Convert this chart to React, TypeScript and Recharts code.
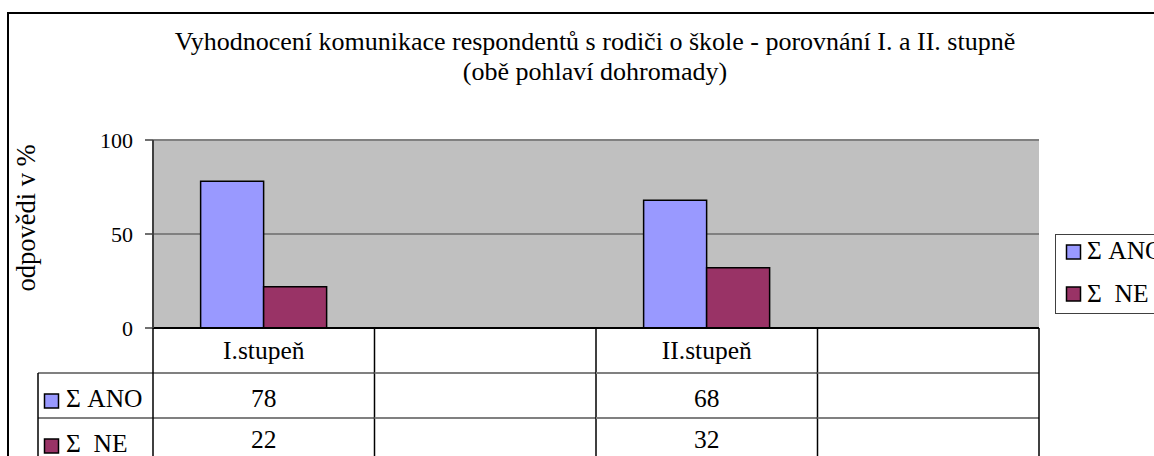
import React from 'react';
import { BarChart, Bar, XAxis, YAxis, CartesianGrid, Legend, ReferenceLine, Label } from 'recharts';

// ---- data ----
const categories = ['I.stupeň', '', 'II.stupeň', ''];
const anoValues: (number | null)[] = [78, null, 68, null];
const neValues: (number | null)[] = [22, null, 32, null];
const seriesNames = ['Σ ANO', 'Σ  NE'];
const seriesColors = ['#9999FF', '#993366'];
const yTicks = [0, 50, 100];
const titleLines = [
  'Vyhodnocení komunikace respondentů s rodiči o škole - porovnání I. a II. stupně',
  '(obě pohlaví dohromady)',
];
const yAxisTitle = 'odpovědi v %';

const data = categories.map((c, i) => ({ id: i, cat: c, ano: anoValues[i], ne: neValues[i] }));
const seriesValues = [anoValues, neValues];

// ---- layout ----
const FONT = "'Liberation Serif', 'Times New Roman', 'DejaVu Serif', serif";
const W = 1154;
const H = 470;
const TOP = 140;
const RIGHT = 115;
const YAXIS_W = 153;
const XAXIS_H = 142;
const PLOT_LEFT = YAXIS_W;
const PLOT_RIGHT = W - RIGHT;
const PLOT_BOTTOM = H - XAXIS_H;
const BAND = (PLOT_RIGHT - PLOT_LEFT) / categories.length;
const ROW_H = 45;
const TABLE_LEFT = 38;
const TABLE_FS = 25.5;

const TableTick = (props: any) => {
  const { x, payload } = props;
  const i: number = payload?.index ?? props.index ?? 0;
  const left = x - BAND / 2;
  const right = x + BAND / 2;
  const r1 = PLOT_BOTTOM;
  const r2 = r1 + ROW_H;
  const r3 = r2 + ROW_H;
  const textStyle = { fontFamily: FONT, fontSize: TABLE_FS, fill: '#000' } as const;
  return (
    <g>
      <line x1={left} x2={right} y1={r2} y2={r2} stroke="#808080" strokeWidth={2} />
      <line x1={left} x2={right} y1={r3} y2={r3} stroke="#808080" strokeWidth={2} />
      {i === 0 && (
        <g>
          <line x1={TABLE_LEFT} x2={left} y1={r2} y2={r2} stroke="#808080" strokeWidth={2} />
          <line x1={TABLE_LEFT} x2={left} y1={r3} y2={r3} stroke="#808080" strokeWidth={2} />
          <line x1={TABLE_LEFT} x2={TABLE_LEFT} y1={r2} y2={H} stroke="#000" strokeWidth={1.5} />
          <line x1={left} x2={left} y1={r1} y2={H} stroke="#000" strokeWidth={1.5} />
          {seriesNames.map((n, k) => (
            <g key={n}>
              <rect
                x={TABLE_LEFT + 6.5}
                y={(k === 0 ? r2 : r3) + 21}
                width={14}
                height={14}
                fill={seriesColors[k]}
                stroke="#000"
                strokeWidth={1.5}
              />
              <text x={TABLE_LEFT + 28} y={(k === 0 ? r2 : r3) + 34} style={{ ...textStyle, whiteSpace: 'pre' }}>
                {n}
              </text>
            </g>
          ))}
        </g>
      )}
      <line x1={right} x2={right} y1={r1} y2={H} stroke="#000" strokeWidth={1.5} />
      <text x={x} y={r1 + 31} textAnchor="middle" style={textStyle}>
        {categories[i]}
      </text>
      {seriesValues.map((vals, k) =>
        vals[i] != null ? (
          <text key={k} x={x} y={(k === 0 ? r2 : r3) + (k === 0 ? 34 : 30)} textAnchor="middle" style={textStyle}>
            {String(vals[i])}
          </text>
        ) : null
      )}
    </g>
  );
};

const YTitle = (props: any) => {
  const vb = props.viewBox || { x: 0, y: TOP, width: YAXIS_W, height: PLOT_BOTTOM - TOP };
  const cx = vb.x + 35;
  const cy = vb.y + vb.height / 2 - 16;
  return (
    <text
      x={cx}
      y={cy}
      transform={`rotate(-90 ${cx} ${cy})`}
      textAnchor="middle"
      style={{ fontFamily: FONT, fontSize: 26.5, fill: '#000' }}
    >
      {yAxisTitle}
    </text>
  );
};

const LegendBox = () => (
  <svg width={110} height={82} style={{ display: 'block', overflow: 'visible' }}>
    <rect x={0.5} y={0.5} width={140} height={79} fill="#fff" stroke="#404040" strokeWidth={1} />
    {seriesNames.map((n, i) => (
      <g key={n}>
        <rect x={11.5} y={11} width={14} height={14} fill={seriesColors[i]} stroke="#000" strokeWidth={1.5} transform={`translate(0 ${i * 42})`} />
        <text x={32} y={25 + i * 43} style={{ fontFamily: FONT, fontSize: TABLE_FS, fill: '#000', whiteSpace: 'pre' }}>
          {n}
        </text>
      </g>
    ))}
  </svg>
);

export default function App() {
  return (
    <div style={{ position: 'absolute', left: 0, top: 0, width: 1154, height: 456, overflow: 'hidden', background: '#fff' }}>
      <BarChart
        width={W}
        height={H}
        data={data}
        margin={{ top: TOP, right: RIGHT, left: 0, bottom: 0 }}
        barCategoryGap="21.5%"
        barGap={0}
      >
        <CartesianGrid vertical={false} stroke="#404040" strokeWidth={1} fill="#C0C0C0" fillOpacity={1} />
        <XAxis
          dataKey="id"
          type="category"
          height={XAXIS_H}
          interval={0}
          tickLine={false}
          tickSize={0}
          axisLine={{ stroke: '#000', strokeWidth: 2 }}
          tick={<TableTick />}
        />
        <YAxis
          domain={[0, 100]}
          ticks={yTicks}
          interval={0}
          width={YAXIS_W}
          tickSize={8}
          tickMargin={12}
          axisLine={{ stroke: '#404040', strokeWidth: 2 }}
          tickLine={{ stroke: '#404040', strokeWidth: 1.5 }}
          tick={{ fill: '#000', fontSize: 22, fontFamily: FONT }}
        >
          <Label content={<YTitle />} />
        </YAxis>
        <YAxis
          yAxisId="right"
          orientation="right"
          width={0}
          domain={[0, 100]}
          tick={false}
          tickLine={false}
          axisLine={{ stroke: '#808080', strokeWidth: 2 }}
        />
        <ReferenceLine y={100} stroke="#808080" strokeWidth={2} />
        <Bar dataKey="ano" name={seriesNames[0]} fill={seriesColors[0]} stroke="#000" strokeWidth={1.5} isAnimationActive={false} />
        <Bar dataKey="ne" name={seriesNames[1]} fill={seriesColors[1]} stroke="#000" strokeWidth={1.5} isAnimationActive={false} />
        <Legend
          layout="horizontal"
          align="center"
          verticalAlign="middle"
          content={<LegendBox />}
          wrapperStyle={{ left: 1055, top: 234, width: 110, height: 82 }}
        />
      </BarChart>
      <svg
        width={1154}
        height={456}
        style={{ position: 'absolute', left: 0, top: 0, pointerEvents: 'none' }}
      >
        <rect x={8} y={13} width={1300} height={600} fill="none" stroke="#000" strokeWidth={2} />
        {titleLines.map((t, i) => (
          <text
            key={i}
            x={595}
            y={50 + i * 30}
            textAnchor="middle"
            style={{ fontFamily: FONT, fontSize: 26, fill: '#000' }}
          >
            {t}
          </text>
        ))}
      </svg>
    </div>
  );
}
